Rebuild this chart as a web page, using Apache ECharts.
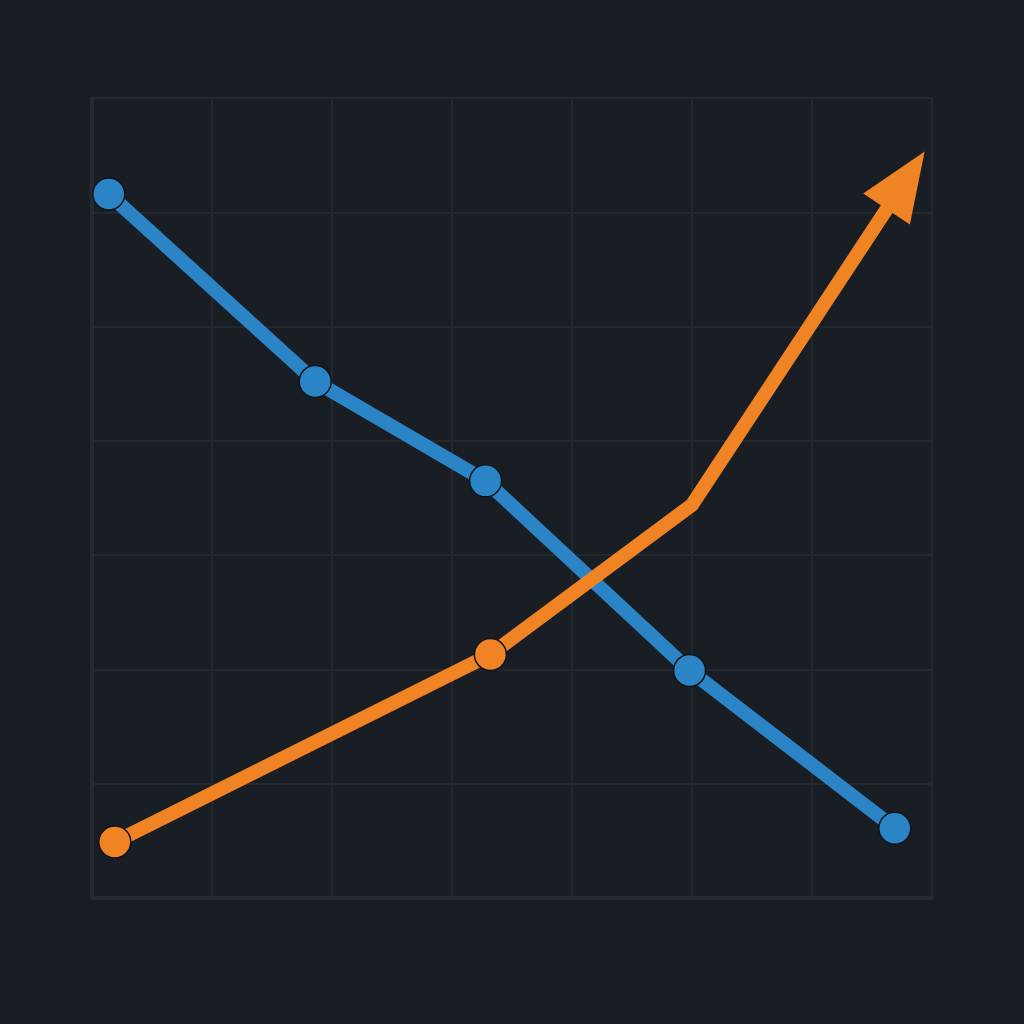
<!DOCTYPE html>
<html>
<head>
<meta charset="utf-8">
<script src="https://cdn.jsdelivr.net/npm/echarts@6/dist/echarts.min.js"></script>
<style>html,body{margin:0;padding:0;background:#191d24;}#c{width:1024px;height:1024px;}</style>
</head>
<body>
<div id="c"></div>
<script>
var blueX = [0.14, 1.86, 3.28, 4.98, 6.69];
var blueY = [6.16, 4.52, 3.65, 1.99, 0.61];
var orangeX = [0.19, 3.32, 5.0, 6.78];
var orangeY = [0.49, 2.13, 3.44, 6.28];
var orangeMarkers = [true, true, false, 'arrow'];

var chart = echarts.init(document.getElementById('c'));
var blueData = blueX.map(function (x, i) { return [x, blueY[i]]; });
var orangeData = orangeX.map(function (x, i) {
  var m = orangeMarkers[i];
  var d = { value: [x, orangeY[i]] };
  if (m === false) { d.symbolSize = 0; }
  if (m === 'arrow') { d.symbol = 'triangle'; d.symbolSize = [56, 69]; d.symbolRotate = -33.5; d.itemStyle = { borderWidth: 0 }; }
  return d;
});
chart.setOption({
  backgroundColor: '#191d24',
  animation: false,
  grid: { left: 92, right: 92, top: 98, bottom: 126 },
  xAxis: {
    type: 'value', min: 0, max: 7, interval: 1,
    axisLine: { show: true, onZero: false, lineStyle: { color: '#262b33', width: 4 } },
    axisTick: { show: false }, axisLabel: { show: false },
    splitLine: { show: true, lineStyle: { color: '#23282f', width: 2 } }
  },
  yAxis: {
    type: 'value', min: 0, max: 7, interval: 1,
    axisLine: { show: true, onZero: false, lineStyle: { color: '#262b33', width: 4 } },
    axisTick: { show: false }, axisLabel: { show: false },
    splitLine: { show: true, lineStyle: { color: '#23282f', width: 2 } }
  },
  series: [
    {
      type: 'line', data: blueData, symbol: 'circle', symbolSize: 32,
      lineStyle: { color: '#2a84c6', width: 14, cap: 'round', join: 'round' },
      itemStyle: { color: '#2a84c6', borderColor: '#10141a', borderWidth: 1.5 }
    },
    {
      type: 'line', data: orangeData, symbol: 'circle', symbolSize: 32,
      lineStyle: { color: '#f08324', width: 14, join: 'miter' },
      itemStyle: { color: '#f08324', borderColor: '#10141a', borderWidth: 1.5 }
    }
  ]
});
</script>
</body>
</html>
